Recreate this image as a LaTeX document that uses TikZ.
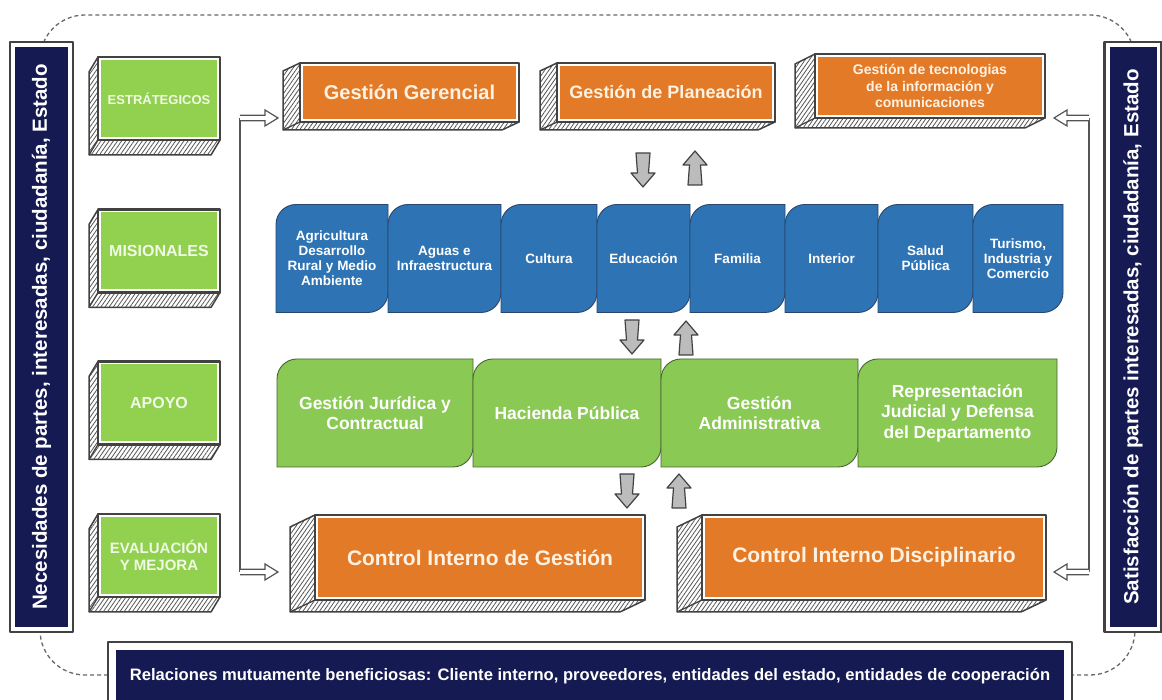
\documentclass[tikz,border=0pt]{standalone}
\usepackage{fontspec}
\setmainfont{Liberation Sans}
\usetikzlibrary{calc,patterns.meta}
\definecolor{navy}{RGB}{22,26,82}
\definecolor{orng}{RGB}{226,122,40}
\definecolor{lgreen}{RGB}{146,208,80}
\definecolor{lgtext}{RGB}{240,250,228}
\definecolor{bblue}{RGB}{46,116,181}
\definecolor{bedge}{RGB}{40,70,110}
\definecolor{rgreen}{RGB}{138,201,84}
\definecolor{redge}{RGB}{70,100,50}
\definecolor{outl}{RGB}{66,66,66}
\definecolor{agray}{RGB}{188,188,188}
\definecolor{cream}{RGB}{255,242,226}
\pgfdeclarelayer{back}
\pgfdeclarelayer{bg}
\pgfsetlayers{back,bg,main}
\newcommand\myfs[2]{\bfseries\fontsize{#1}{#2}\selectfont}
\newcommand\frameit[2]{%
 \begin{pgfonlayer}{bg}
  \draw[frame] ([shift={(-#2,#2)}]#1.north west) rectangle ([shift={(#2,-#2)}]#1.south east);
 \end{pgfonlayer}}
\newcommand\extrude[4]{%
 \begin{pgfonlayer}{bg}
  \path ([shift={(-#2,#2)}]#1.north west) coordinate (#1-a)
        ([shift={(-#2,-#2)}]#1.south west) coordinate (#1-b)
        ([shift={(#2,-#2)}]#1.south east) coordinate (#1-c);
  \draw[hatchface] (#1-a) -- ($(#1-a)+(-#3,-#4)$) -- ($(#1-b)+(-#3,-#4)$) -- ($(#1-c)+(-#3,-#4)$) -- (#1-c) -- (#1-b) -- cycle;
  \draw[hatchedge] (#1-b) -- ($(#1-b)+(-#3,-#4)$);
  \draw[frame] (#1-a) rectangle (#1-c);
 \end{pgfonlayer}}
\newcommand\tabshape[3]{%
 \begin{pgfonlayer}{bg}
  \draw[fill=#2, draw=#3, line width=0.9pt] (#1.south west) -- ([yshift=-20pt]#1.north west) arc[start angle=180,end angle=90,radius=20pt] -- (#1.north east) -- ([yshift=20pt]#1.south east) arc[start angle=0,end angle=-90,radius=20pt] -- cycle;
 \end{pgfonlayer}}
\newcommand\grdown[1]{\draw[grarrow] ($(#1)+(-7,0)$) -- ($(#1)+(7,0)$) -- ($(#1)+(5.5,-20)$) -- ($(#1)+(12,-20)$) -- ($(#1)+(0,-34)$) -- ($(#1)+(-12,-20)$) -- ($(#1)+(-5.5,-20)$) -- cycle;}
\newcommand\grup[1]{\draw[grarrow] ($(#1)+(-7,0)$) -- ($(#1)+(7,0)$) -- ($(#1)+(5.5,20)$) -- ($(#1)+(12,20)$) -- ($(#1)+(0,34)$) -- ($(#1)+(-12,20)$) -- ($(#1)+(-5.5,20)$) -- cycle;}
\newcommand\holright[2]{\draw[holarrow] ($(#1)+(0,2.8)$) -- ($(#1)+(#2-13,2.8)$) -- ($(#1)+(#2-13,8)$) -- ($(#1)+(#2,0)$) -- ($(#1)+(#2-13,-8)$) -- ($(#1)+(#2-13,-2.8)$) -- ($(#1)+(0,-2.8)$);}
\newcommand\holleft[2]{\draw[holarrow] ($(#1)+(0,2.8)$) -- ($(#1)+(-#2+13,2.8)$) -- ($(#1)+(-#2+13,8)$) -- ($(#1)+(-#2,0)$) -- ($(#1)+(-#2+13,-8)$) -- ($(#1)+(-#2+13,-2.8)$) -- ($(#1)+(0,-2.8)$);}
\begin{document}
\begin{tikzpicture}[x=1pt,y=1pt,
  every node/.style={inner sep=0pt, outer sep=0pt, align=center},
  gbox/.style={fill=lgreen, text=lgtext, minimum width=116pt, minimum height=77pt},
  obox/.style={fill=orng, text=cream},
  btab/.style={minimum height=108pt, text=white, font=\myfs{13.5}{15}},
  gtab/.style={minimum height=108pt, text=white, font=\myfs{17.5}{20.5}},
  hatchface/.style={draw=outl, line width=1.5pt, line join=round, preaction={fill=white}, pattern={Lines[angle=55,distance=3.4pt,line width=0.8pt]}, pattern color=outl!90},
  hatchedge/.style={draw=outl, line width=1.3pt},
  frame/.style={draw=outl, line width=2.2pt, fill=white, line join=round},
  grarrow/.style={draw=outl, line width=1.2pt, fill=agray, line join=round},
  holarrow/.style={draw=outl!90, line width=1.2pt, fill=white, line join=miter},
  conn/.style={draw=outl!90, line width=1.2pt},
]
\useasboundingbox (0,0) rectangle (1162,700);
\begin{pgfonlayer}{back}
\fill[white] (0,0) rectangle (1162,700);
\draw[outl!80, line width=1.3pt, dash pattern=on 4pt off 3pt, rounded corners=45pt] (40,25) rectangle (1135,685);
\end{pgfonlayer}

% side bars
\node[fill=navy, minimum width=53pt, minimum height=580pt] (lbar) at (41.5,363) {};
\node[rotate=90, text=white, font=\myfs{20.5}{22}] (ltxt) at (lbar.center) {Necesidades de partes, interesadas, ciudadanía, Estado};
\frameit{lbar}{5}
\node[fill=navy, minimum width=47pt, minimum height=580pt] (rbar) at (1133,363) {};
\node[rotate=90, text=white, font=\myfs{20.5}{22}] (rtxt) at (rbar.center) {Satisfacción de partes interesadas, ciudadanía, Estado};
\frameit{rbar}{5}

% banner
\node[fill=navy, minimum width=948pt, minimum height=52pt, text=white, font=\myfs{16.6}{18}] (ban) at (590,24) {Relaciones mutuamente beneficiosas: Cliente interno, proveedores, entidades del estado, entidades de cooperación};
\frameit{ban}{8}

% left green boxes
\node[gbox, font=\myfs{13}{15}] (est) at (159,601.5) {ESTRÁTEGICOS};
\extrude{est}{3}{9}{15}
\node[gbox, font=\myfs{16}{18}] (mis) at (159,449) {MISIONALES};
\extrude{mis}{3}{9}{15}
\node[gbox, font=\myfs{16}{18}] (apo) at (159,297) {APOYO};
\extrude{apo}{3}{9}{15}
\node[gbox, font=\myfs{15}{17.5}] (eva) at (159,144.5) {EVALUACIÓN\\Y MEJORA};
\extrude{eva}{3}{9}{15}

% top orange boxes
\node[obox, minimum width=213pt, minimum height=53pt, font=\myfs{20}{22}] (ger) at (409.5,607.5) {Gestión Gerencial};
\extrude{ger}{3}{17}{8}
\node[obox, minimum width=212pt, minimum height=53pt, font=\myfs{18}{20}] (pla) at (666,607.5) {Gestión de Planeación};
\extrude{pla}{3}{17}{8}
\node[obox, minimum width=224pt, minimum height=58pt, font=\myfs{14}{16.5}] (tic) at (930,614) {Gestión de tecnologias\\de la información y\\comunicaciones};
\extrude{tic}{3}{20}{10}

% blue row
\node[btab, minimum width=112pt] (agr) at (332,441.5) {Agricultura\\Desarrollo\\Rural y Medio\\Ambiente};
\tabshape{agr}{bblue}{bedge}
\node[btab, minimum width=113pt] (agu) at (444.5,441.5) {Aguas e\\Infraestructura};
\tabshape{agu}{bblue}{bedge}
\node[btab, minimum width=96pt] (cul) at (549,441.5) {Cultura};
\tabshape{cul}{bblue}{bedge}
\node[btab, minimum width=93pt] (edu) at (643.5,441.5) {Educación};
\tabshape{edu}{bblue}{bedge}
\node[btab, minimum width=95pt] (fam) at (737.5,441.5) {Familia};
\tabshape{fam}{bblue}{bedge}
\node[btab, minimum width=93pt] (int) at (831.5,441.5) {Interior};
\tabshape{int}{bblue}{bedge}
\node[btab, minimum width=95pt] (sal) at (925.5,441.5) {Salud\\Pública};
\tabshape{sal}{bblue}{bedge}
\node[btab, minimum width=90pt] (tur) at (1018,441.5) {Turismo,\\Industria y\\Comercio};
\tabshape{tur}{bblue}{bedge}

% green row
\node[gtab, minimum width=196pt] (jur) at (375,287) {Gestión Jurídica y\\Contractual};
\tabshape{jur}{rgreen}{redge}
\node[gtab, minimum width=188pt] (hac) at (567,287) {Hacienda Pública};
\tabshape{hac}{rgreen}{redge}
\node[gtab, minimum width=197pt] (adm) at (759.5,287) {Gestión\\Administrativa};
\tabshape{adm}{rgreen}{redge}
\node[gtab, minimum width=199pt] (rep) at (957.5,287) {Representación\\Judicial y Defensa\\del Departamento};
\tabshape{rep}{rgreen}{redge}

% bottom orange boxes
\node[obox, minimum width=324pt, minimum height=79pt, font=\myfs{21}{23}] (cig) at (480,142.5) {Control Interno de Gestión};
\extrude{cig}{3}{25}{12}
\node[obox, minimum width=338pt, minimum height=79pt, font=\myfs{21}{23}] (cid) at (874,142.5) {Control Interno Disciplinario};
\extrude{cid}{3}{25}{12}

% gray block arrows between levels
\coordinate (a1d) at (643,547); \coordinate (a1u) at (695,515);
\coordinate (a2d) at (632,380); \coordinate (a2u) at (686,345);
\coordinate (a3d) at (627,226); \coordinate (a3u) at (679,192);
\grdown{a1d} \grup{a1u}
\grdown{a2d} \grup{a2u}
\grdown{a3d} \grup{a3u}

% side connectors
\coordinate (lt) at (240,582); \coordinate (lb) at (240,128);
\draw[conn] (lt) -- (lb);
\holright{lt}{38}
\holright{lb}{38}
\coordinate (rt) at (1089,582); \coordinate (rb) at (1089,128);
\draw[conn] (rt) -- (rb);
\holleft{rt}{35}
\holleft{rb}{35}
\end{tikzpicture}
\end{document}
